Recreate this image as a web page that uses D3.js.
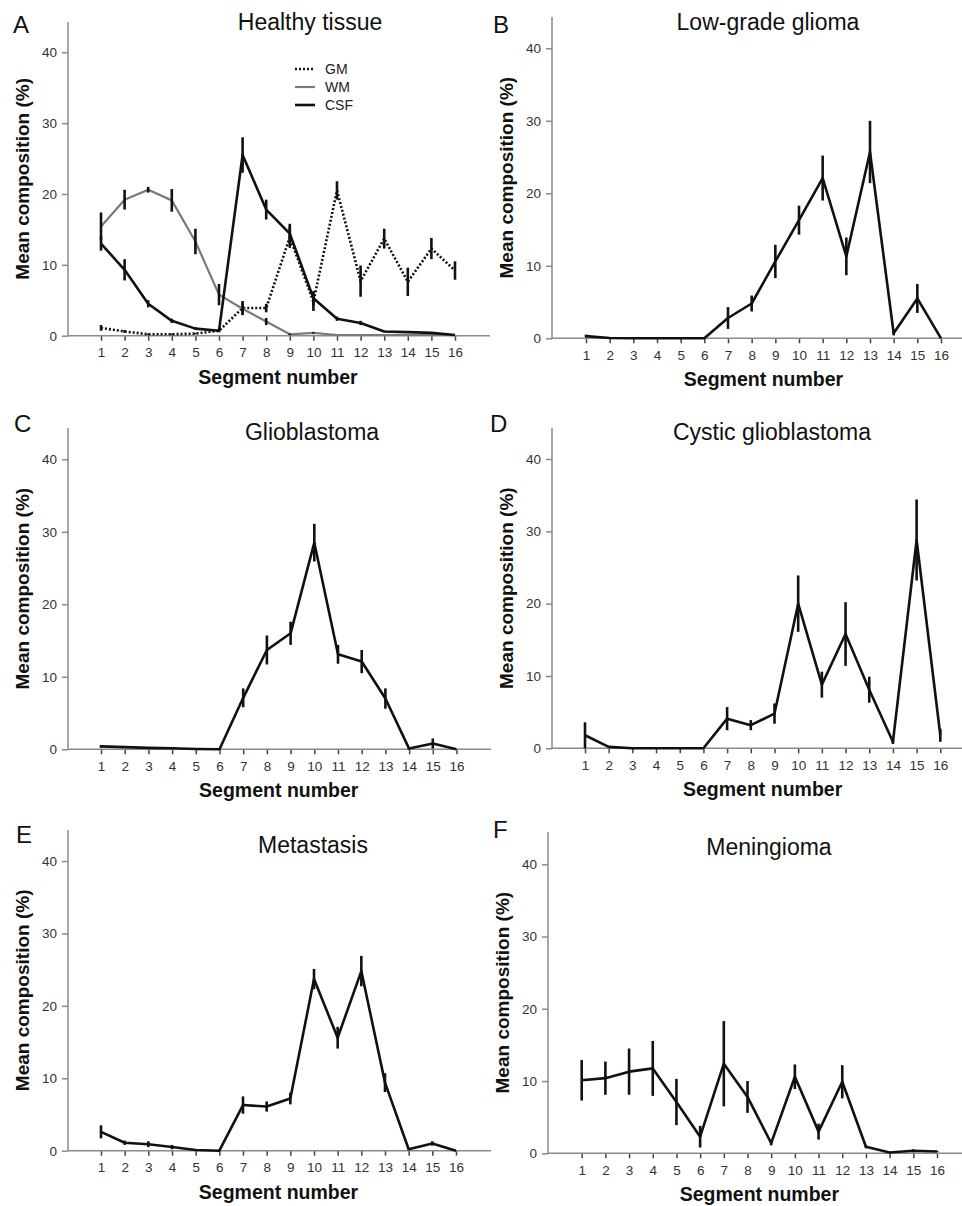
<!DOCTYPE html>
<html>
<head>
<meta charset="utf-8">
<script src="https://cdn.jsdelivr.net/npm/d3@7"></script>
<style>
  body { margin: 0; background: #fff; }
  svg { display: block; font-family: "Liberation Sans", Arial, sans-serif; }
</style>
</head>
<body>
<svg id="chart" width="962" height="1206"></svg>
<script>
// segment numbers and y ticks
const segments = [1, 2, 3, 4, 5, 6, 7, 8, 9, 10, 11, 12, 13, 14, 15, 16];
const yTicks = [0, 10, 20, 30, 40];

// A - healthy tissue (three tissue classes)
const healthyGM     = [1.1, 0.6, 0.2, 0.2, 0.3, 0.7, 3.9, 3.9, 13.9, 4.8, 20.5, 7.7, 13.7, 7.6, 12.3, 9.2];
const healthyGMErr  = [0.4, 0.2, 0.1, 0.1, 0.1, 0.2, 1.0, 0.6, 1.5, 1.3, 1.3, 2.2, 1.4, 2.0, 1.5, 1.3];
const healthyWM     = [15.4, 19.2, 20.6, 19.1, 13.3, 5.8, 3.8, 2.0, 0.2, 0.4, 0.1, 0.1, 0.1, 0.1, 0.1, 0.1];
const healthyWMErr  = [2.0, 1.4, 0.4, 1.6, 1.8, 1.5, 0.8, 0.5, 0.1, 0.1, 0, 0, 0, 0, 0, 0];
const healthyCSF    = [13.0, 9.3, 4.5, 2.1, 1.0, 0.7, 25.5, 17.8, 14.4, 5.3, 2.4, 1.8, 0.6, 0.5, 0.4, 0.1];
const healthyCSFErr = [1.0, 1.5, 0.5, 0.3, 0.2, 0.2, 2.5, 1.4, 1.4, 1.0, 0.3, 0.3, 0.1, 0.1, 0.1, 0];

// B - low-grade glioma
const lowGrade    = [0.3, 0.05, 0, 0, 0, 0, 2.8, 4.8, 10.6, 16.3, 22.1, 11.3, 25.7, 0.7, 5.5, 0];
const lowGradeErr = [0.2, 0, 0, 0, 0, 0, 1.5, 1.1, 2.3, 2.0, 3.1, 2.6, 4.3, 0.3, 2.0, 0];

// C - glioblastoma
const glioblastoma    = [0.4, 0.3, 0.2, 0.15, 0.05, 0, 7.1, 13.7, 16.0, 28.5, 13.1, 12.1, 7.0, 0.1, 0.8, 0];
const glioblastomaErr = [0.2, 0.1, 0.1, 0.1, 0, 0, 1.3, 2.0, 1.6, 2.6, 1.3, 1.6, 1.4, 0.1, 0.7, 0];

// D - cystic glioblastoma
const cystic    = [1.8, 0.2, 0, 0, 0, 0, 4.1, 3.2, 4.8, 20.0, 8.8, 15.8, 8.1, 0.9, 28.8, 1.8];
const cysticErr = [1.8, 0.1, 0, 0, 0, 0, 1.6, 0.7, 1.4, 3.9, 1.8, 4.4, 1.8, 0.3, 5.6, 0.9];

// E - metastasis
const metastasis    = [2.6, 1.1, 0.9, 0.5, 0.1, 0, 6.3, 6.1, 7.2, 23.7, 15.6, 24.8, 9.4, 0.2, 1.0, 0];
const metastasisErr = [0.9, 0.3, 0.4, 0.3, 0, 0, 1.2, 0.7, 0.8, 1.4, 1.5, 2.1, 1.3, 0.1, 0.3, 0];

// F - meningioma
const meningioma    = [10.1, 10.4, 11.3, 11.75, 7.1, 2.3, 12.4, 7.8, 1.4, 10.6, 3.0, 9.9, 0.9, 0.1, 0.35, 0.25];
const meningiomaErr = [2.8, 2.3, 3.2, 3.8, 3.2, 1.5, 5.9, 2.2, 0.3, 1.7, 1.1, 2.3, 0.2, 0.05, 0.2, 0.1];

// legend for panel A
const legendNames = ["GM", "WM", "CSF"];

const styles = {
  GM:   { stroke: "#111", width: 2.6, dash: "2,2" },
  WM:   { stroke: "#7a7a7a", width: 2.2, dash: null },
  CSF:  { stroke: "#111", width: 2.6, dash: null },
  main: { stroke: "#111", width: 2.6, dash: null }
};

// panel geometry (pixels)
const panels = [
  { letter: "A", title: "Healthy tissue", ax: 68, x1: 101, x16: 455, xEnd: 490, top: 22, y40: 52.3, y0: 335.7,
    tx: 310, ty: 30, lx: 13, ly: 33,
    series: [
      { key: "GM", values: healthyGM, err: healthyGMErr },
      { key: "WM", values: healthyWM, err: healthyWMErr },
      { key: "CSF", values: healthyCSF, err: healthyCSFErr }
    ], legend: true },
  { letter: "B", title: "Low-grade glioma", ax: 552, x1: 586, x16: 941, xEnd: 962, top: 17, y40: 48.3, y0: 338.3,
    tx: 768, ty: 30, lx: 493, ly: 33,
    series: [{ key: "main", values: lowGrade, err: lowGradeErr }] },
  { letter: "C", title: "Glioblastoma", ax: 68, x1: 101, x16: 456.5, xEnd: 491, top: 428, y40: 459.3, y0: 749.3,
    tx: 312, ty: 440, lx: 14, ly: 432,
    series: [{ key: "main", values: glioblastoma, err: glioblastomaErr }] },
  { letter: "D", title: "Cystic glioblastoma", ax: 552, x1: 585, x16: 940.3, xEnd: 962, top: 428, y40: 459, y0: 748.3,
    tx: 772, ty: 440, lx: 490, ly: 432,
    series: [{ key: "main", values: cystic, err: cysticErr }] },
  { letter: "E", title: "Metastasis", ax: 68, x1: 101, x16: 456, xEnd: 491, top: 830, y40: 861, y0: 1150.7,
    tx: 313, ty: 853, lx: 16, ly: 843,
    series: [{ key: "main", values: metastasis, err: metastasisErr }] },
  { letter: "F", title: "Meningioma", ax: 548, x1: 581.7, x16: 937, xEnd: 962, top: 832, y40: 864.3, y0: 1153.3,
    tx: 769, ty: 855, lx: 493, ly: 838,
    series: [{ key: "main", values: meningioma, err: meningiomaErr }] }
];

const svg = d3.select("#chart");
const axisColor = "#8a8a8a";

panels.forEach(p => {
  const g = svg.append("g");
  const x = d3.scaleLinear().domain([1, 16]).range([p.x1, p.x16]);
  const y = d3.scaleLinear().domain([0, 40]).range([p.y0, p.y40]);

  // y axis
  const yAxis = g.append("g")
    .attr("transform", `translate(${p.ax},0)`)
    .call(d3.axisLeft(y).tickValues(yTicks).tickSize(6).tickPadding(5).tickFormat(d3.format("d")));
  yAxis.select(".domain").remove();
  yAxis.selectAll(".tick line").attr("stroke", axisColor).attr("stroke-width", 1.5);
  yAxis.selectAll(".tick text").attr("fill", "#333").style("font-size", "13.5px");
  g.append("line")
    .attr("x1", p.ax).attr("x2", p.ax).attr("y1", p.top).attr("y2", p.y0)
    .attr("stroke", axisColor).attr("stroke-width", 1.5);

  // x axis
  const xAxis = g.append("g")
    .attr("transform", `translate(0,${p.y0})`)
    .call(d3.axisBottom(x).tickValues(segments).tickSize(5).tickPadding(7).tickFormat(d3.format("d")));
  xAxis.select(".domain").remove();
  xAxis.selectAll(".tick line").attr("stroke", "#444").attr("stroke-width", 1.5);
  xAxis.selectAll(".tick text").attr("fill", "#333").style("font-size", "13.5px");
  g.append("line")
    .attr("x1", p.ax).attr("x2", p.xEnd).attr("y1", p.y0).attr("y2", p.y0)
    .attr("stroke", axisColor).attr("stroke-width", 1.5);

  // axis titles
  g.append("text")
    .attr("transform", `translate(${p.ax - 39},${(p.top + p.y0) / 2}) rotate(-90)`)
    .attr("text-anchor", "middle")
    .style("font-size", "19px").style("font-weight", "bold").attr("fill", "#111")
    .text("Mean composition (%)");
  g.append("text")
    .attr("x", (p.x1 + p.x16) / 2).attr("y", p.y0 + 48)
    .attr("text-anchor", "middle")
    .style("font-size", "19.5px").style("font-weight", "bold").attr("fill", "#111")
    .text("Segment number");

  // panel title and letter
  g.append("text")
    .attr("x", p.tx).attr("y", p.ty)
    .attr("text-anchor", "middle")
    .style("font-size", "23px").attr("fill", "#111")
    .text(p.title);
  g.append("text")
    .attr("x", p.lx).attr("y", p.ly)
    .style("font-size", "24px").attr("fill", "#111")
    .text(p.letter);

  // series
  const line = d3.line().x((d, i) => x(segments[i])).y(d => y(d));
  p.series.forEach(s => {
    const st = styles[s.key];
    g.append("path")
      .datum(s.values)
      .attr("fill", "none")
      .attr("stroke", st.stroke)
      .attr("stroke-width", st.width)
      .attr("stroke-linejoin", "round")
      .attr("stroke-dasharray", st.dash)
      .attr("d", line);
    g.append("g").selectAll("line")
      .data(s.values.map((v, i) => ({ seg: segments[i], v, e: s.err[i] })).filter(d => d.e > 0))
      .join("line")
      .attr("x1", d => x(d.seg)).attr("x2", d => x(d.seg))
      .attr("y1", d => y(Math.max(0, d.v - d.e))).attr("y2", d => y(d.v + d.e))
      .attr("stroke", "#111").attr("stroke-width", 2.6);
  });

  // legend (panel A)
  if (p.legend) {
    const lg = g.append("g").attr("transform", `translate(295,${p.top + 47})`);
    legendNames.forEach((name, i) => {
      const st = styles[name];
      lg.append("line")
        .attr("x1", 0).attr("x2", 20).attr("y1", i * 18).attr("y2", i * 18)
        .attr("stroke", st.stroke).attr("stroke-width", st.width)
        .attr("stroke-dasharray", st.dash);
      lg.append("text")
        .attr("x", 30).attr("y", i * 18 + 5)
        .style("font-size", "14px").attr("fill", "#222")
        .text(name);
    });
  }
});
</script>
</body>
</html>
